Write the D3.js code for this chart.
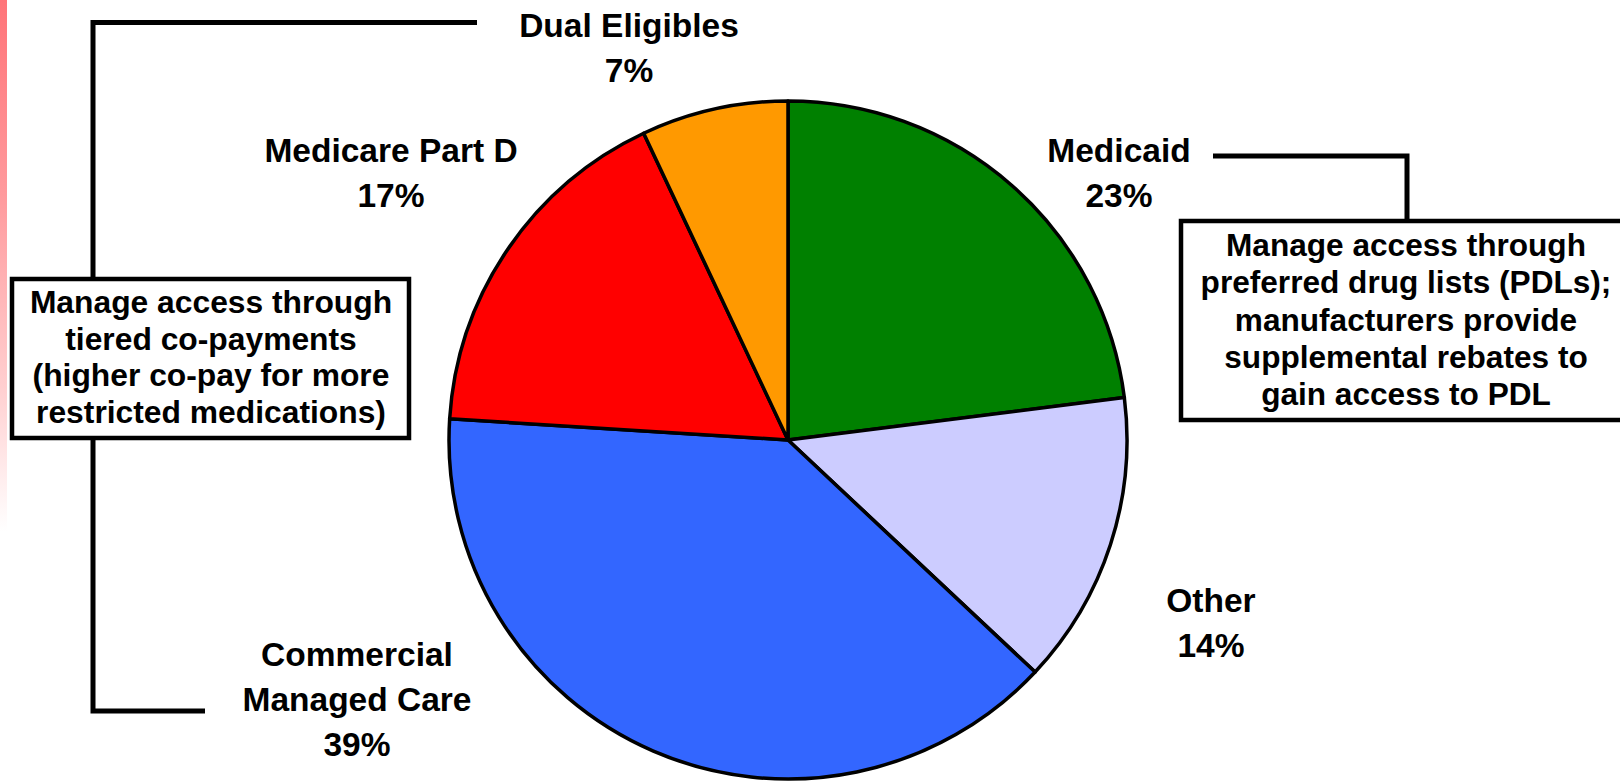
<!DOCTYPE html>
<html>
<head>
<meta charset="utf-8">
<script src="https://cdn.jsdelivr.net/npm/d3@7"></script>
<style>
  html, body { margin: 0; padding: 0; background: #fff; }
  svg { display: block; }
  text { font-family: "Liberation Sans", Arial, sans-serif; font-weight: bold; fill: #000; }
</style>
</head>
<body>
<svg id="chart" width="1620" height="781"></svg>
<script>
// Market segments, clockwise from 12 o'clock
const segments = ["Medicaid", "Other", "Commercial Managed Care", "Medicare Part D", "Dual Eligibles"];
const shares = [23, 14, 39, 17, 7];
const segmentColors = ["#008000", "#CCCCFF", "#3366FF", "#FF0000", "#FF9900"];
const labelLines = [["Medicaid"], ["Other"], ["Commercial", "Managed Care"], ["Medicare Part D"], ["Dual Eligibles"]];

// Callout texts
const leftNote = ["Manage access through", "tiered co-payments", "(higher co-pay for more", "restricted medications)"];
const rightNote = ["Manage access through", "preferred drug lists (PDLs);", "manufacturers provide", "supplemental rebates to", "gain access to PDL"];

const svg = d3.select("#chart");
const W = 1620, H = 781;
const cx = 788, cy = 440, R = 339;

// Faded red strip along the left edge
const defs = svg.append("defs");
const grad = defs.append("linearGradient").attr("id", "edgeFade")
  .attr("x1", 0).attr("y1", 0).attr("x2", 0).attr("y2", 1);
grad.append("stop").attr("offset", "0%").attr("stop-color", "#ff7479");
grad.append("stop").attr("offset", "25%").attr("stop-color", "#ff9a9d");
grad.append("stop").attr("offset", "50%").attr("stop-color", "#ffd0d1");
grad.append("stop").attr("offset", "68%").attr("stop-color", "#ffffff");
grad.append("stop").attr("offset", "100%").attr("stop-color", "#ffffff");
svg.append("rect").attr("x", 0).attr("y", 0).attr("width", 7).attr("height", H)
  .attr("fill", "url(#edgeFade)");

// Pie
const data = segments.map((s, i) => ({ name: s, value: shares[i], color: segmentColors[i], lines: labelLines[i] }));
const pie = d3.pie().value(d => d.value).sort(null).startAngle(0).endAngle(2 * Math.PI);
const arc = d3.arc().innerRadius(0).outerRadius(R);

const g = svg.append("g").attr("transform", `translate(${cx},${cy})`);
g.selectAll("path.slice")
  .data(pie(data))
  .join("path")
  .attr("class", "slice")
  .attr("d", arc)
  .attr("fill", d => d.data.color)
  .attr("stroke", "#000")
  .attr("stroke-width", 3.5)
  .attr("stroke-linejoin", "round");

// Segment labels (name lines, then percentage)
const labelPos = [
  { x: 1119, y: 162 },
  { x: 1211, y: 612 },
  { x: 357, y: 666 },
  { x: 391, y: 162 },
  { x: 629, y: 37 }
];
const labelFont = 33.5, labelStep = 45;
data.forEach((d, i) => {
  const t = svg.append("text")
    .attr("text-anchor", "middle")
    .attr("font-size", labelFont)
    .attr("x", labelPos[i].x).attr("y", labelPos[i].y);
  const rows = d.lines.concat([d.value + "%"]);
  rows.forEach((r, j) => {
    t.append("tspan").attr("x", labelPos[i].x).attr("dy", j === 0 ? 0 : labelStep).text(r);
  });
});

// Connector lines
const connector = d3.line();
svg.append("path")
  .attr("d", connector([[477, 22.5], [93, 22.5], [93, 711], [205, 711]]))
  .attr("fill", "none").attr("stroke", "#000").attr("stroke-width", 5);
svg.append("path")
  .attr("d", connector([[1213, 156], [1407, 156], [1407, 221]]))
  .attr("fill", "none").attr("stroke", "#000").attr("stroke-width", 5);

// Callout boxes
function noteBox(x0, y0, x1, y1, lines, tx, firstBase, step, size) {
  svg.append("rect")
    .attr("x", x0).attr("y", y0).attr("width", x1 - x0).attr("height", y1 - y0)
    .attr("fill", "#fff").attr("stroke", "#000").attr("stroke-width", 4.5);
  const t = svg.append("text").attr("text-anchor", "middle").attr("font-size", size);
  lines.forEach((l, j) => {
    t.append("tspan").attr("x", tx).attr("y", firstBase + j * step).text(l);
  });
}
noteBox(12, 279, 409, 438, leftNote, 211, 313, 36.5, 31.8);
noteBox(1181, 221, 1640, 420, rightNote, 1406, 256, 37.3, 31.6);
</script>
</body>
</html>
